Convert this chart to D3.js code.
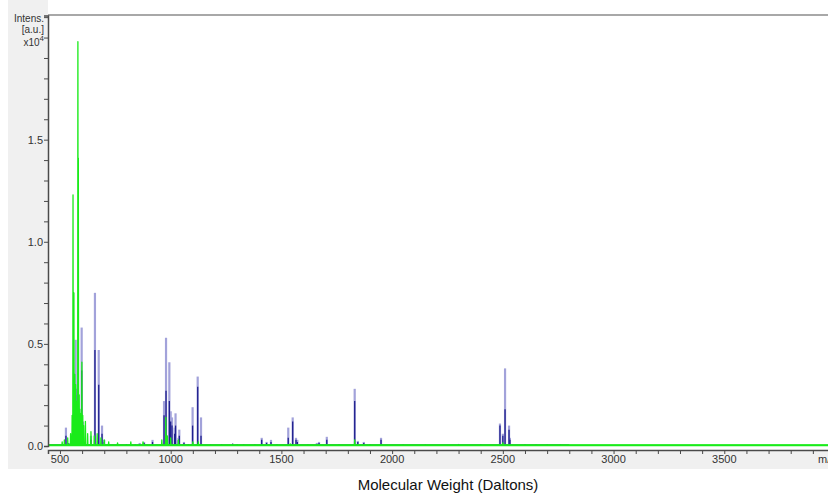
<!DOCTYPE html>
<html>
<head>
<meta charset="utf-8">
<script src="https://cdn.jsdelivr.net/npm/d3@7"></script>
<style>
  html, body { margin: 0; padding: 0; background: #fff; }
  svg { display: block; font-family: Arial, "Liberation Sans", sans-serif; }
</style>
</head>
<body>
<svg id="chart" width="828" height="493"></svg>
<script>
/* MALDI spectrum, two overlaid traces (blue + green), intensity in 10^4 a.u. */

// x ticks (Da) and y ticks (x10^4 a.u.)
const xTickLabels = [500, 1000, 1500, 2000, 2500, 3000, 3500];
const yTickLabels = [0.0, 0.5, 1.0, 1.5];

// blue trace: [m/z, peak top, solid core height]
const bluePeaks = [
  [527, 0.09, 0.05], [563, 0.05, 0.03], [571, 0.52, 0.28], [574, 0.25, 0.15],
  [598, 0.58, 0.37], [604, 0.12, 0.08], [640, 0.05, 0.03], [658, 0.75, 0.47],
  [675, 0.47, 0.30], [690, 0.10, 0.06], [700, 0.03, 0.02], [860, 0.015, 0.01],
  [880, 0.02, 0.015], [918, 0.03, 0.02], [970, 0.22, 0.15], [979, 0.53, 0.27],
  [994, 0.41, 0.22], [1000, 0.17, 0.12], [1006, 0.14, 0.10], [1018, 0.09, 0.06],
  [1022, 0.16, 0.10], [1035, 0.04, 0.03], [1039, 0.08, 0.05], [1060, 0.02, 0.015],
  [1099, 0.19, 0.10], [1122, 0.34, 0.29], [1137, 0.14, 0.05], [1411, 0.04, 0.03],
  [1433, 0.02, 0.015], [1453, 0.03, 0.02], [1531, 0.09, 0.04], [1551, 0.14, 0.12],
  [1566, 0.04, 0.03], [1572, 0.03, 0.02], [1660, 0.015, 0.01], [1670, 0.02, 0.015],
  [1705, 0.045, 0.03], [1831, 0.28, 0.22], [1845, 0.025, 0.02], [1872, 0.02, 0.015],
  [1950, 0.04, 0.03], [2487, 0.11, 0.10], [2500, 0.06, 0.05], [2510, 0.38, 0.18],
  [2528, 0.10, 0.08], [2532, 0.04, 0.03]
];

// blue baseline noise: [m/z, intensity]
const blueNoise = [
  [510, 0.01], [540, 0.015], [720, 0.01], [760, 0.012], [800, 0.01], [840, 0.01],
  [1080, 0.01], [1180, 0.008], [1230, 0.01], [1280, 0.012], [1300, 0.01], [1330, 0.01],
  [1380, 0.01], [1480, 0.01], [1620, 0.008], [1760, 0.01], [1900, 0.01], [2050, 0.008],
  [2150, 0.008], [2300, 0.01], [2400, 0.01], [2600, 0.01], [2650, 0.008], [2700, 0.008],
  [2760, 0.008]
];

// green trace: [m/z, intensity]
const greenPeaks = [
  [510, 0.02], [520, 0.03], [535, 0.04], [548, 0.06], [555, 0.15], [559, 1.23],
  [563, 0.75], [567, 0.35], [571, 0.30], [575, 0.22], [578, 0.20], [581, 1.98],
  [583, 1.41], [587, 0.25], [590, 0.18], [595, 0.16], [599, 0.41], [603, 0.15],
  [607, 0.10], [615, 0.12], [625, 0.06], [640, 0.07], [655, 0.05], [668, 0.06],
  [685, 0.04], [700, 0.03], [720, 0.02], [760, 0.015], [820, 0.02], [875, 0.02],
  [960, 0.03], [978, 0.14], [985, 0.05], [1000, 0.04], [1035, 0.03], [1100, 0.02],
  [1125, 0.02], [1540, 0.01], [1831, 0.03], [2500, 0.015]
];

const GREEN_BASE = 0.004;

const svg = d3.select("#chart");
const L = 48, R = 835, T = 15.5, B = 446;

const x = d3.scaleLinear().domain([446, 4000]).range([L, R]);
const y = d3.scaleLinear().domain([0, 2.108]).range([B, T]);

// backgrounds
svg.append("rect").attr("x", 8).attr("y", 0).attr("width", 40).attr("height", 469).attr("fill", "#f0f0f0");
svg.append("rect").attr("x", 8).attr("y", 450).attr("width", 820).attr("height", 19).attr("fill", "#f0f0f0");
svg.append("rect").attr("x", L).attr("y", T).attr("width", 828 - L).attr("height", 450 - T).attr("fill", "#fff");

const plot = svg.append("g");

// blue: lavender halo then navy core
plot.append("g").selectAll("line").data(blueNoise).join("line")
  .attr("x1", d => x(d[0])).attr("x2", d => x(d[0]))
  .attr("y1", y(0)).attr("y2", d => y(d[1]))
  .attr("stroke", "#2a2a92").attr("stroke-width", 1.2);

plot.append("g").selectAll("line").data(bluePeaks).join("line")
  .attr("x1", d => x(d[0])).attr("x2", d => x(d[0]))
  .attr("y1", y(0)).attr("y2", d => y(d[1]))
  .attr("stroke", "#a2a2da").attr("stroke-width", 2.2);

plot.append("g").selectAll("line").data(bluePeaks).join("line")
  .attr("x1", d => x(d[0])).attr("x2", d => x(d[0]))
  .attr("y1", y(0)).attr("y2", d => y(d[2]))
  .attr("stroke", "#20208e").attr("stroke-width", 1.3);

plot.append("line")
  .attr("x1", x(446)).attr("x2", x(2800)).attr("y1", y(0.006)).attr("y2", y(0.006))
  .attr("stroke", "#3a3a9a").attr("stroke-width", 1);

// green trace as a profile path
const gPts = [[446, GREEN_BASE]];
greenPeaks.forEach(p => {
  gPts.push([p[0] - 1.2, GREEN_BASE], [p[0], p[1]], [p[0] + 1.2, GREEN_BASE]);
});
gPts.push([4000, GREEN_BASE]);
plot.append("path")
  .attr("d", d3.line().x(d => x(d[0])).y(d => y(d[1]))(gPts))
  .attr("fill", "none").attr("stroke", "#1aeb1a").attr("stroke-width", 1.3)
  .attr("stroke-linejoin", "round");
plot.append("line")
  .attr("x1", L).attr("x2", 828).attr("y1", y(GREEN_BASE)).attr("y2", y(GREEN_BASE))
  .attr("stroke", "#1aeb1a").attr("stroke-width", 2);

// frame top
svg.append("line").attr("x1", L).attr("x2", 828).attr("y1", 15).attr("y2", 15)
  .attr("stroke", "#a8a8a8").attr("stroke-width", 2);

// axes
const axisColor = "#4a4a4a", labelColor = "#333";

const xAxis = svg.append("g").attr("transform", `translate(0,${450})`)
  .call(d3.axisBottom(x).tickValues(d3.range(500, 4001, 100)).tickSize(4).tickFormat(""));
xAxis.select(".domain").attr("stroke", axisColor).attr("stroke-width", 1.5);
xAxis.selectAll(".tick line").attr("stroke", axisColor);

svg.append("g").selectAll("text").data(xTickLabels).join("text")
  .attr("x", d => x(d)).attr("y", 463).attr("text-anchor", "middle")
  .attr("font-size", 11).attr("fill", labelColor).text(d => d);
svg.append("text").attr("x", 818).attr("y", 463).attr("font-size", 11)
  .attr("fill", labelColor).text("m/z");

const yAxis = svg.append("g").attr("transform", `translate(${L},0)`)
  .call(d3.axisLeft(y).tickValues(d3.range(0, 2.11, 0.1)).tickSize(4).tickFormat(""));
yAxis.select(".domain").attr("stroke", axisColor).attr("stroke-width", 1.5);
yAxis.selectAll(".tick line").attr("stroke", axisColor);

svg.append("g").selectAll("text").data(yTickLabels).join("text")
  .attr("x", 43).attr("y", d => y(d) + 4).attr("text-anchor", "end")
  .attr("font-size", 11).attr("fill", labelColor).text(d => d.toFixed(1));

// y unit label
const yl = svg.append("g").attr("font-size", 10).attr("fill", labelColor).attr("text-anchor", "end");
yl.append("text").attr("x", 44).attr("y", 22).text("Intens.");
yl.append("text").attr("x", 44).attr("y", 33).text("[a.u.]");
const xt = yl.append("text").attr("x", 44).attr("y", 46);
xt.append("tspan").text("x10");
xt.append("tspan").attr("dy", -5).attr("font-size", 8).text("4");

// x title
svg.append("text").attr("x", 448).attr("y", 490).attr("text-anchor", "middle")
  .attr("font-size", 15).attr("fill", "#111").text("Molecular Weight (Daltons)");
</script>
</body>
</html>
